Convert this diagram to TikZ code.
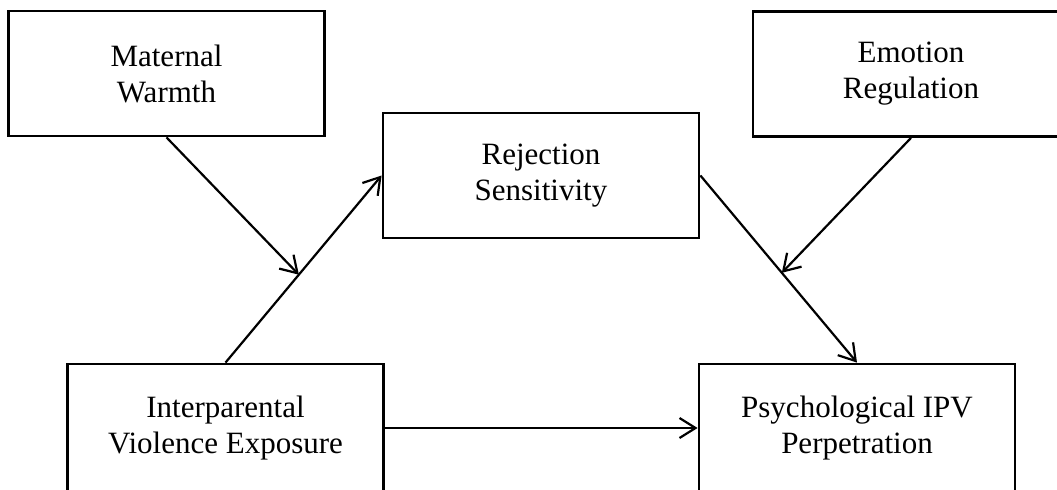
\documentclass[tikz,border=0pt]{standalone}
\usepackage{fontspec}
\setmainfont{Liberation Serif}
\usetikzlibrary{positioning,calc,arrows.meta}

\begin{document}
\begin{tikzpicture}[x=0.5pt,y=-0.5pt]
  \tikzset{
    box/.style={draw=black, line width=1.4pt, fill=white, minimum width=158pt,
      minimum height=62.5pt, inner sep=0pt, align=center,
      font=\fontsize{15.5}{18}\selectfont},
    tall/.style={minimum height=64pt},
    arr/.style={-{Straight Barb[length=8pt,width=10pt]}, draw=black, line width=1.1pt}
  }
  \useasboundingbox (0,0) rectangle (1057,489);

  % ======= Boxes =======
  \node[box] (mw) at (166.5, 73.5) {Maternal\\Warmth};
  \node[box] (er) at (911, 74) {Emotion\\Regulation};
  \node[box] (rs) at (541, 175.5) {Rejection\\Sensitivity};
  \node[box, tall] (ipv) at (225.5, 428) {Interparental\\Violence Exposure};
  \node[box, tall] (pp) at (857, 428) {Psychological IPV\\Perpetration};

  % ======= Moderation points =======
  \coordinate (m1) at ($(ipv.north)!0.47!(rs.west)$);
  \coordinate (m2) at ($(rs.east)!0.52!(pp.north)$);

  % ======= Paths =======
  \draw[arr] (ipv.north) -- (rs.west);
  \draw[arr] (rs.east) -- (pp.north);
  \draw[arr] (ipv.east) -- (pp.west);
  \draw[arr] (mw.south) -- (m1);
  \draw[arr] (er.south) -- (m2);
\end{tikzpicture}
\end{document}
